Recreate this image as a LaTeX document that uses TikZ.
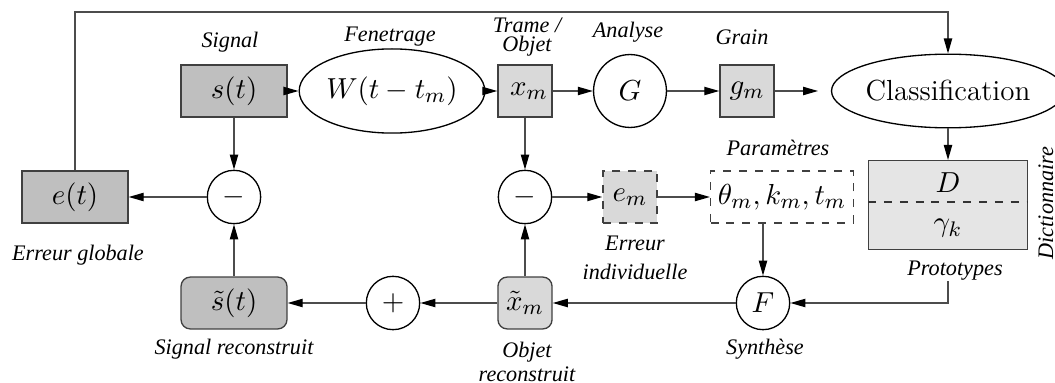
\documentclass[tikz,border=0pt]{standalone}
\usepackage{fontspec}
\newfontfamily\lblfont[ItalicFont={Liberation Serif Italic}]{Liberation Serif}
\usepackage{tikz}
\usetikzlibrary{shapes.geometric, arrows.meta, positioning}
\definecolor{darkfill}{gray}{0.75}
\definecolor{midfill}{gray}{0.85}
\definecolor{lightfill}{gray}{0.90}
\tikzset{
    sigbox/.style={rectangle, draw=black!75, fill=darkfill, line width=0.5pt,
                   minimum width=1.41cm, minimum height=0.69cm, inner sep=0pt},
    objbox/.style={rectangle, draw=black!75, fill=midfill, line width=0.5pt,
                   minimum width=0.72cm, minimum height=0.69cm, inner sep=0pt},
    recbox/.style={rounded corners=3.5pt},
    parbox/.style={rectangle, dashed, draw=black!75, line width=0.5pt,
                   minimum height=0.69cm, inner sep=0pt},
    opcirc/.style={circle, draw=black, fill=white, line width=0.5pt,
                   minimum size=0.71cm, inner sep=0pt},
    oval/.style={ellipse, draw=black, fill=white, line width=0.5pt, inner sep=0pt},
    arrow/.style={-{Triangle[length=2mm, width=1.1mm, color=black]},
                  draw=black!70, line width=0.5pt},
    lbl/.style={font=\lblfont\itshape\fontsize{8.4}{9}\selectfont,
                align=center, inner sep=0pt},
}

\begin{document}
\begin{tikzpicture}[x=0.0133cm, y=-0.0133cm,
                    every node/.style={font=\fontsize{11}{13}\selectfont}]
    \useasboundingbox (0,0) rectangle (1055,383);
    % top row
    \node[sigbox] (st) at (234,91) {$s(t)$};
    \node[oval, minimum width=2cm, minimum height=1.12cm] (win) at (392,91) {$W(t-t_m)$};
    \node[objbox] (xm) at (525,91) {$\;x_m$};
    \node[opcirc, minimum size=0.97cm] (ganal) at (630,91) {$G$};
    \node[objbox] (gm) at (747,91) {$g_m$};
    \node[oval, minimum width=2.53cm, minimum height=0.98cm] (classif) at (948,91) {Classification};
    % middle row
    \node[sigbox] (et) at (75,197) {$e(t)$};
    \node[opcirc] (subg) at (234,197) {$-$};
    \node[opcirc] (subi) at (525,197) {$-$};
    \node[objbox, dashed] (em) at (630,197) {$e_m$};
    \node[parbox, minimum width=1.9cm] (par) at (782,197) {$\theta_m, k_m, t_m$};
    \node[rectangle, draw=black!75, fill=lightfill, line width=0.5pt,
          minimum width=2.11cm, minimum height=1.18cm] (dict) at (948,205) {};
    \coordinate (dsep) at (948,202);
    \node (dd) at (948,183) {$D$};
    \node (dg) at (948,228) {$\gamma_k$};
    \draw[dashed, black!80] (dict.west |- dsep) -- (dict.east |- dsep);
    % bottom row
    \node[sigbox, recbox] (sr) at (234,303) {$\tilde{s}(t)$};
    \node[opcirc] (addc) at (393,303) {$+$};
    \node[objbox, recbox] (xr) at (525,303) {$\tilde{x}_m$};
    \node[opcirc] (synth) at (763,303) {$F$};
    \coordinate (fb) at (500,12);

    % labels
    \node[lbl] (lsig) at (230,42) {Signal};
    \node[lbl] (lwin) at (390,37) {Fenetrage};
    \node[lbl] (lobj) at (527,37) {Trame /\\[-1.5pt]Objet};
    \node[lbl] (lana) at (628,32) {Analyse};
    \node[lbl] (lgra) at (742,37) {Grain};
    \node[lbl] (lpar) at (778,148) {Paramètres};
    \node[lbl, rotate=90] (ldic) at (1046,203) {Dictionnaire};
    \node[lbl] (lerg) at (78,255) {Erreur globale};
    \node[lbl] (leri) at (635,258) {Erreur\\[2pt]individuelle};
    \node[lbl] (proto) at (955,271) {Prototypes};
    \node[lbl] (lsr) at (234,349) {Signal reconstruit};
    \node[lbl] (lxr) at (527,362) {Objet\\reconstruit};
    \node[lbl] (lsyn) at (765,349) {Synthèse};

    % connectors
    \draw[arrow] (st) -- (win);
    \draw[arrow] (win) -- (xm);
    \draw[arrow] (xm) -- (ganal);
    \draw[arrow] (ganal) -- (gm);
    \draw[arrow, shorten >=0.17cm] (gm) -- (classif);
    \draw[arrow] (classif) -- (dict);
    \draw[arrow] (st) -- (subg);
    \draw[arrow] (subg) -- (et);
    \draw[arrow] (xm) -- (subi);
    \draw[arrow] (subi) -- (em);
    \draw[arrow] (em) -- (par);
    \draw[arrow] (synth |- par.south) -- (synth);
    \draw[arrow] (dict |- proto.south) |- (synth);
    \draw[arrow] (synth) -- (xr);
    \draw[arrow] (xr) -- (subi);
    \draw[arrow] (xr) -- (addc);
    \draw[arrow] (addc) -- (sr);
    \draw[arrow] (sr) -- (subg);
    \draw[arrow] (et) |- (fb) -| (classif);
\end{tikzpicture}
\end{document}
